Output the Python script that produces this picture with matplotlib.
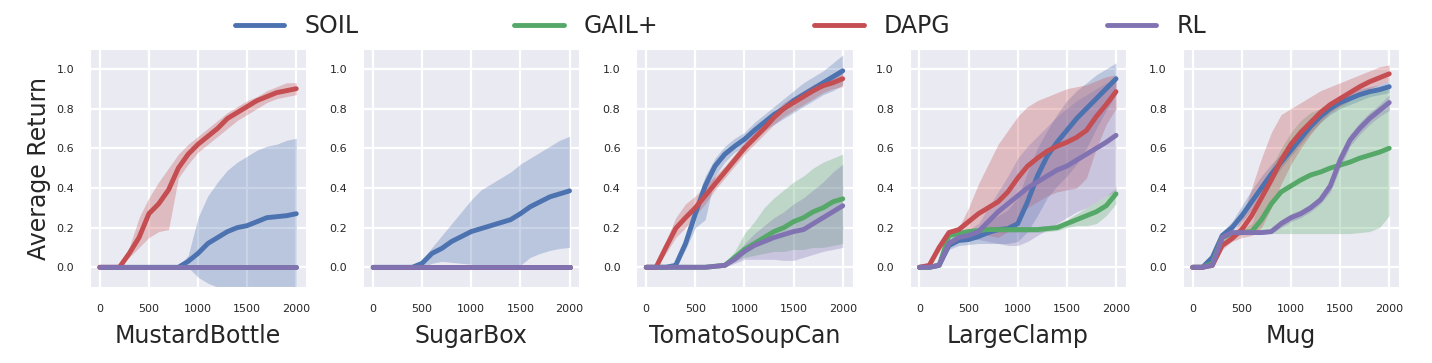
import matplotlib
matplotlib.use("Agg")
import matplotlib.pyplot as plt
import seaborn as sns
import numpy as np

sns.set_style("darkgrid", {"grid.linewidth": 1.6})
plt.rcParams['font.family'] = ['DejaVu Sans']
plt.rcParams['grid.linewidth'] = 1.6

methods = ["SOIL", "GAIL+", "DAPG", "RL"]
colors = ["#4C72B0", "#55A868", "#C44E52", "#8172B2"]
tasks = ["MustardBottle", "SugarBox", "TomatoSoupCan", "LargeClamp", "Mug"]
steps = list(range(0, 2001, 100))
zeros = [0.0] * 21

# ---------------- MustardBottle ----------------
mb_soil = [0, 0, 0, 0, 0, 0, 0, 0, 0, 0.03, 0.07, 0.12, 0.15, 0.18, 0.20, 0.21, 0.23, 0.25, 0.255, 0.26, 0.27]
mb_soil_lo = [0, 0, 0, 0, 0, 0, 0, 0, 0, 0.0, -0.05, -0.08, -0.1, -0.12, -0.13, -0.13, -0.13, -0.13, -0.13, -0.13, -0.13]
mb_soil_hi = [0, 0, 0, 0, 0, 0, 0, 0, 0, 0.06, 0.25, 0.36, 0.43, 0.49, 0.53, 0.56, 0.59, 0.61, 0.62, 0.64, 0.65]
mb_dapg = [0, 0, 0, 0.07, 0.15, 0.27, 0.32, 0.39, 0.50, 0.57, 0.62, 0.66, 0.70, 0.75, 0.78, 0.81, 0.84, 0.86, 0.88, 0.89, 0.90]
mb_dapg_lo = [0, 0, 0, 0.05, 0.10, 0.15, 0.18, 0.19, 0.45, 0.52, 0.58, 0.62, 0.66, 0.70, 0.74, 0.77, 0.80, 0.83, 0.85, 0.86, 0.87]
mb_dapg_hi = [0, 0, 0, 0.10, 0.25, 0.35, 0.43, 0.50, 0.57, 0.62, 0.66, 0.70, 0.74, 0.78, 0.81, 0.84, 0.86, 0.89, 0.91, 0.93, 0.93]

# ---------------- SugarBox ----------------
sb_soil = [0, 0, 0, 0, 0, 0.02, 0.07, 0.095, 0.13, 0.155, 0.18, 0.195, 0.21, 0.225, 0.24, 0.27, 0.305, 0.33, 0.355, 0.37, 0.385]
sb_soil_lo = [0, 0, 0, 0, 0, 0.0, 0.02, 0.03, 0.025, 0.02, 0.015, 0.01, 0.01, 0.005, 0.0, 0.01, 0.05, 0.07, 0.085, 0.095, 0.10]
sb_soil_hi = [0, 0, 0, 0, 0, 0.04, 0.10, 0.16, 0.22, 0.28, 0.34, 0.39, 0.42, 0.45, 0.48, 0.52, 0.55, 0.58, 0.61, 0.64, 0.66]

# ---------------- TomatoSoupCan ----------------
tc_soil = [0, 0, 0, 0.01, 0.12, 0.27, 0.41, 0.51, 0.57, 0.61, 0.645, 0.69, 0.73, 0.77, 0.80, 0.84, 0.87, 0.90, 0.93, 0.96, 0.99]
tc_soil_lo = [0, 0, 0, 0.0, 0.09, 0.20, 0.24, 0.46, 0.53, 0.58, 0.61, 0.65, 0.69, 0.72, 0.75, 0.78, 0.81, 0.84, 0.87, 0.89, 0.92]
tc_soil_hi = [0, 0, 0, 0.02, 0.15, 0.32, 0.46, 0.55, 0.61, 0.65, 0.68, 0.73, 0.77, 0.81, 0.85, 0.89, 0.93, 0.96, 0.99, 1.03, 1.07]
tc_gail = [0, 0, 0, 0, 0, 0, 0, 0.005, 0.01, 0.05, 0.09, 0.12, 0.15, 0.18, 0.20, 0.23, 0.25, 0.28, 0.30, 0.33, 0.345]
tc_gail_lo = [0, 0, 0, 0, 0, 0, 0, 0.0, 0.0, 0.03, 0.05, 0.06, 0.07, 0.08, 0.08, 0.09, 0.09, 0.10, 0.10, 0.11, 0.12]
tc_gail_hi = [0, 0, 0, 0, 0, 0, 0, 0.01, 0.02, 0.08, 0.17, 0.23, 0.30, 0.35, 0.39, 0.43, 0.46, 0.50, 0.53, 0.55, 0.57]
tc_dapg = [0, 0, 0.10, 0.196, 0.25, 0.30, 0.36, 0.42, 0.48, 0.54, 0.60, 0.65, 0.70, 0.755, 0.80, 0.83, 0.86, 0.89, 0.915, 0.93, 0.95]
tc_dapg_lo = [0, 0, 0.07, 0.15, 0.20, 0.26, 0.32, 0.39, 0.45, 0.51, 0.57, 0.62, 0.67, 0.72, 0.76, 0.79, 0.82, 0.85, 0.88, 0.90, 0.91]
tc_dapg_hi = [0, 0, 0.13, 0.25, 0.32, 0.36, 0.41, 0.46, 0.51, 0.57, 0.63, 0.68, 0.73, 0.78, 0.83, 0.86, 0.89, 0.92, 0.94, 0.96, 0.98]
tc_rl = [0, 0, 0, 0, 0, 0, 0, 0.005, 0.01, 0.04, 0.08, 0.11, 0.13, 0.15, 0.165, 0.18, 0.19, 0.22, 0.25, 0.28, 0.31]
tc_rl_lo = [0, 0, 0, 0, 0, 0, 0, 0.0, 0.0, 0.02, 0.04, 0.04, 0.04, 0.04, 0.035, 0.035, 0.05, 0.065, 0.08, 0.09, 0.10]
tc_rl_hi = [0, 0, 0, 0, 0, 0, 0, 0.01, 0.02, 0.06, 0.12, 0.17, 0.21, 0.25, 0.28, 0.32, 0.35, 0.39, 0.43, 0.48, 0.52]

# ---------------- LargeClamp ----------------
lc_soil = [0, 0, 0.01, 0.11, 0.135, 0.14, 0.155, 0.175, 0.19, 0.195, 0.22, 0.33, 0.46, 0.56, 0.63, 0.69, 0.75, 0.80, 0.85, 0.90, 0.95]
lc_soil_lo = [0, 0, 0.0, 0.09, 0.11, 0.115, 0.12, 0.12, 0.12, 0.12, 0.13, 0.18, 0.26, 0.35, 0.41, 0.46, 0.52, 0.60, 0.70, 0.79, 0.87]
lc_soil_hi = [0, 0, 0.02, 0.13, 0.16, 0.17, 0.19, 0.23, 0.26, 0.29, 0.35, 0.48, 0.60, 0.69, 0.77, 0.84, 0.89, 0.93, 0.97, 1.00, 1.03]
lc_gail = [0, 0, 0.01, 0.16, 0.17, 0.18, 0.185, 0.19, 0.19, 0.19, 0.19, 0.19, 0.19, 0.195, 0.20, 0.22, 0.24, 0.26, 0.28, 0.31, 0.37]
lc_gail_lo = [0, 0, 0.0, 0.14, 0.155, 0.165, 0.17, 0.175, 0.175, 0.175, 0.175, 0.175, 0.175, 0.18, 0.185, 0.20, 0.21, 0.21, 0.22, 0.26, 0.32]
lc_gail_hi = [0, 0, 0.02, 0.18, 0.185, 0.195, 0.20, 0.205, 0.205, 0.205, 0.205, 0.205, 0.205, 0.21, 0.215, 0.24, 0.27, 0.30, 0.33, 0.36, 0.40]
lc_dapg = [0, 0.01, 0.10, 0.175, 0.19, 0.23, 0.27, 0.30, 0.33, 0.38, 0.45, 0.51, 0.55, 0.585, 0.61, 0.63, 0.655, 0.69, 0.76, 0.82, 0.885]
lc_dapg_lo = [0, 0.0, 0.08, 0.16, 0.17, 0.17, 0.17, 0.16, 0.15, 0.18, 0.25, 0.30, 0.33, 0.36, 0.38, 0.39, 0.40, 0.45, 0.60, 0.72, 0.80]
lc_dapg_hi = [0, 0.02, 0.12, 0.19, 0.20, 0.30, 0.42, 0.52, 0.62, 0.69, 0.76, 0.81, 0.84, 0.86, 0.88, 0.90, 0.91, 0.92, 0.94, 0.96, 0.97]
lc_rl = [0, 0, 0.01, 0.12, 0.15, 0.16, 0.18, 0.23, 0.28, 0.32, 0.36, 0.40, 0.43, 0.46, 0.49, 0.51, 0.54, 0.57, 0.60, 0.63, 0.665]
lc_rl_lo = [0, 0, 0.0, 0.10, 0.13, 0.14, 0.14, 0.13, 0.12, 0.11, 0.11, 0.13, 0.16, 0.19, 0.22, 0.25, 0.28, 0.30, 0.33, 0.36, 0.38]
lc_rl_hi = [0, 0, 0.02, 0.14, 0.17, 0.19, 0.22, 0.30, 0.38, 0.46, 0.55, 0.61, 0.66, 0.71, 0.76, 0.80, 0.84, 0.87, 0.90, 0.93, 0.95]

# ---------------- Mug ----------------
mg_soil = [0, 0, 0.05, 0.16, 0.20, 0.26, 0.33, 0.40, 0.47, 0.53, 0.59, 0.65, 0.71, 0.76, 0.80, 0.83, 0.85, 0.87, 0.885, 0.895, 0.91]
mg_soil_lo = [0, 0, 0.03, 0.14, 0.18, 0.23, 0.29, 0.36, 0.43, 0.50, 0.56, 0.62, 0.68, 0.73, 0.77, 0.80, 0.82, 0.84, 0.86, 0.87, 0.88]
mg_soil_hi = [0, 0, 0.07, 0.18, 0.23, 0.31, 0.39, 0.46, 0.52, 0.57, 0.62, 0.68, 0.74, 0.79, 0.83, 0.86, 0.88, 0.90, 0.91, 0.92, 0.94]
mg_gail = [0, 0, 0.02, 0.15, 0.17, 0.175, 0.18, 0.24, 0.32, 0.38, 0.41, 0.44, 0.465, 0.48, 0.50, 0.515, 0.53, 0.55, 0.565, 0.58, 0.60]
mg_gail_lo = [0, 0, 0.01, 0.13, 0.16, 0.165, 0.17, 0.17, 0.17, 0.17, 0.17, 0.17, 0.17, 0.17, 0.17, 0.17, 0.17, 0.175, 0.18, 0.20, 0.26]
mg_gail_hi = [0, 0, 0.03, 0.17, 0.18, 0.19, 0.22, 0.35, 0.50, 0.60, 0.68, 0.74, 0.78, 0.80, 0.82, 0.83, 0.84, 0.86, 0.88, 0.89, 0.90]
mg_dapg = [0, 0, 0.01, 0.11, 0.145, 0.19, 0.26, 0.35, 0.44, 0.54, 0.62, 0.68, 0.73, 0.78, 0.82, 0.85, 0.88, 0.91, 0.935, 0.955, 0.975]
mg_dapg_lo = [0, 0, 0.0, 0.09, 0.13, 0.15, 0.16, 0.20, 0.30, 0.42, 0.52, 0.60, 0.67, 0.73, 0.78, 0.81, 0.84, 0.87, 0.90, 0.92, 0.94]
mg_dapg_hi = [0, 0, 0.02, 0.13, 0.16, 0.25, 0.40, 0.55, 0.68, 0.77, 0.80, 0.83, 0.86, 0.89, 0.91, 0.93, 0.95, 0.97, 0.99, 1.01, 1.02]
mg_rl = [0, 0, 0.01, 0.15, 0.175, 0.175, 0.175, 0.175, 0.18, 0.22, 0.25, 0.27, 0.30, 0.34, 0.41, 0.54, 0.64, 0.70, 0.75, 0.79, 0.83]
mg_rl_lo = [0, 0, 0.0, 0.13, 0.165, 0.165, 0.165, 0.165, 0.17, 0.20, 0.23, 0.25, 0.28, 0.32, 0.38, 0.50, 0.61, 0.67, 0.72, 0.76, 0.79]
mg_rl_hi = [0, 0, 0.02, 0.17, 0.185, 0.185, 0.185, 0.185, 0.19, 0.24, 0.27, 0.29, 0.32, 0.36, 0.44, 0.58, 0.67, 0.73, 0.78, 0.82, 0.87]

panels = {
    "MustardBottle": [(mb_soil, mb_soil_lo, mb_soil_hi), (zeros, zeros, zeros),
                      (mb_dapg, mb_dapg_lo, mb_dapg_hi), (zeros, zeros, zeros)],
    "SugarBox": [(sb_soil, sb_soil_lo, sb_soil_hi), (zeros, zeros, zeros),
                 (zeros, zeros, zeros), (zeros, zeros, zeros)],
    "TomatoSoupCan": [(tc_soil, tc_soil_lo, tc_soil_hi), (tc_gail, tc_gail_lo, tc_gail_hi),
                      (tc_dapg, tc_dapg_lo, tc_dapg_hi), (tc_rl, tc_rl_lo, tc_rl_hi)],
    "LargeClamp": [(lc_soil, lc_soil_lo, lc_soil_hi), (lc_gail, lc_gail_lo, lc_gail_hi),
                   (lc_dapg, lc_dapg_lo, lc_dapg_hi), (lc_rl, lc_rl_lo, lc_rl_hi)],
    "Mug": [(mg_soil, mg_soil_lo, mg_soil_hi), (mg_gail, mg_gail_lo, mg_gail_hi),
            (mg_dapg, mg_dapg_lo, mg_dapg_hi), (mg_rl, mg_rl_lo, mg_rl_hi)],
}

fig, axes = plt.subplots(1, 5, figsize=(14.32, 3.63), dpi=100)
fig.subplots_adjust(left=0.0628, right=0.977, bottom=0.209, top=0.865, wspace=0.264)

handles = []
for ax, task in zip(axes, tasks):
    for (mean, lo, hi), name, c in zip(panels[task], methods, colors):
        ax.fill_between(steps, lo, hi, color=c, alpha=0.3, linewidth=0)
        h, = ax.plot(steps, mean, color=c, lw=3.5, label=name, solid_capstyle="round")
        if task == tasks[0]:
            handles.append(h)
    ax.set_xlim(-100, 2100)
    ax.set_ylim(-0.1, 1.1)
    ax.set_xticks([0, 500, 1000, 1500, 2000])
    ax.set_yticks([0.0, 0.2, 0.4, 0.6, 0.8, 1.0])
    ax.grid(True, color="white", linewidth=1.6)
    ax.tick_params(axis="x", labelsize=8, pad=9)
    ax.tick_params(axis="y", labelsize=8, pad=8)
    ax.set_xlabel(task, fontsize=17, labelpad=7)

axes[0].set_ylabel("Average Return", fontsize=17)

fig.legend(handles, methods, loc="upper center", bbox_to_anchor=(0.503, 1.02), ncol=4,
           frameon=False, fontsize=17, handlelength=2.1, columnspacing=6.6,
           handletextpad=0.85)

fig.savefig("out.png", dpi=100)
